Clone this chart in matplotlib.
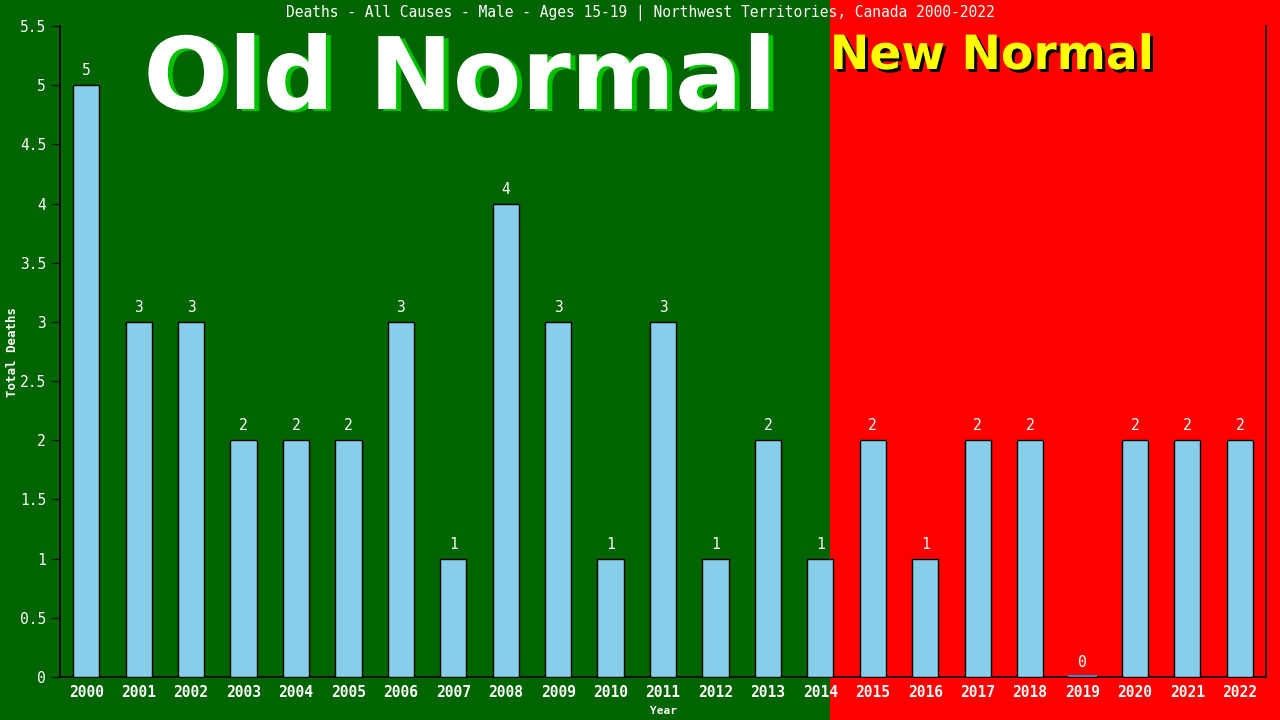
import matplotlib
matplotlib.use('Agg')
from matplotlib import pyplot as plt
from matplotlib.patches import Rectangle
import matplotlib.patheffects as pe

years = [str(y) for y in range(2000, 2023)]
deaths = [5, 3, 3, 2, 2, 2, 3, 1, 4, 3, 1, 3, 1, 2, 1, 2, 1, 2, 2, 0, 2, 2, 2]
yticks = [0, 0.5, 1, 1.5, 2, 2.5, 3, 3.5, 4, 4.5, 5, 5.5]
ytick_labels = ['0', '0.5', '1', '1.5', '2', '2.5', '3', '3.5', '4', '4.5', '5', '5.5']
title = 'Deaths - All Causes - Male - Ages 15-19 | Northwest Territories, Canada 2000-2022'

mono = 'DejaVu Sans Mono'
green = '#006400'
red = '#ff0000'

fig = plt.figure(figsize=(12.8, 7.2), dpi=100)
fig.patch.set_facecolor(green)
# red "new normal" background, right part of figure
fig.patches.append(Rectangle((830 / 1280, 0), 1 - 830 / 1280, 1, transform=fig.transFigure,
                             facecolor=red, edgecolor='none', zorder=-5))

ax = fig.add_axes([60 / 1280, 43 / 720, 1206 / 1280, 651 / 720])
ax.set_zorder(2)
ax.patch.set_alpha(0)

x = list(range(len(years)))
ax.bar(x, deaths, width=0.5, color='#87ceeb', edgecolor='black', linewidth=1, zorder=3)
for i, v in enumerate(deaths):
    if v == 0:
        ax.plot([i - 0.25, i + 0.25], [0.005, 0.005], color='#4682b4', lw=1.5, zorder=4)
    ax.annotate(str(v), (i, v), xytext=(0, 5), textcoords='offset points', ha='center',
                va='bottom', color='white', fontsize=10.5, family=mono)

ax.set_xlim(-0.5, 22.5)
ax.set_ylim(0, 5.5)
ax.set_xticks(x)
ax.set_xticklabels(years, family=mono, fontsize=10.5, color='white', fontweight='bold')
ax.set_yticks(yticks)
ax.set_yticklabels(ytick_labels, family=mono, fontsize=10.5, color='white')
ax.tick_params(axis='x', length=0, pad=6)
ax.tick_params(axis='y', length=6, color='black', pad=4)
ax.spines['top'].set_visible(False)
for s in ['left', 'right', 'bottom']:
    ax.spines[s].set_color('black')
    ax.spines[s].set_linewidth(1.2)

ax.set_xlabel('Year', family=mono, fontsize=8, color='white', fontweight='bold', labelpad=4)
fig.text(13 / 1280, 1 - 352 / 720, 'Total Deaths', rotation=90, ha='center', va='center',
         family=mono, fontsize=9, color='white', fontweight='bold')

fig.text(0.5, 1 - 13 / 720, title, ha='center', va='center', color='white', family=mono, fontsize=10.5)

# big overlay labels with shadows
fig.text(460 / 1280, 1 - 109 / 720, 'Old Normal', ha='center', va='baseline', fontsize=72,
         fontweight='bold', color='white', family='DejaVu Sans',
         path_effects=[pe.SimplePatchShadow(offset=(3.6, -1.5), shadow_rgbFace='#00c000', alpha=1),
                       pe.Normal()])
fig.text(992 / 1280, 1 - 69 / 720, 'New Normal', ha='center', va='baseline', fontsize=34,
         fontweight='bold', color='#ffff00', family='DejaVu Sans',
         path_effects=[pe.SimplePatchShadow(offset=(2.2, -2.2), shadow_rgbFace='black', alpha=1),
                       pe.Normal()])

fig.savefig('out.png', dpi=100, facecolor=fig.get_facecolor())
